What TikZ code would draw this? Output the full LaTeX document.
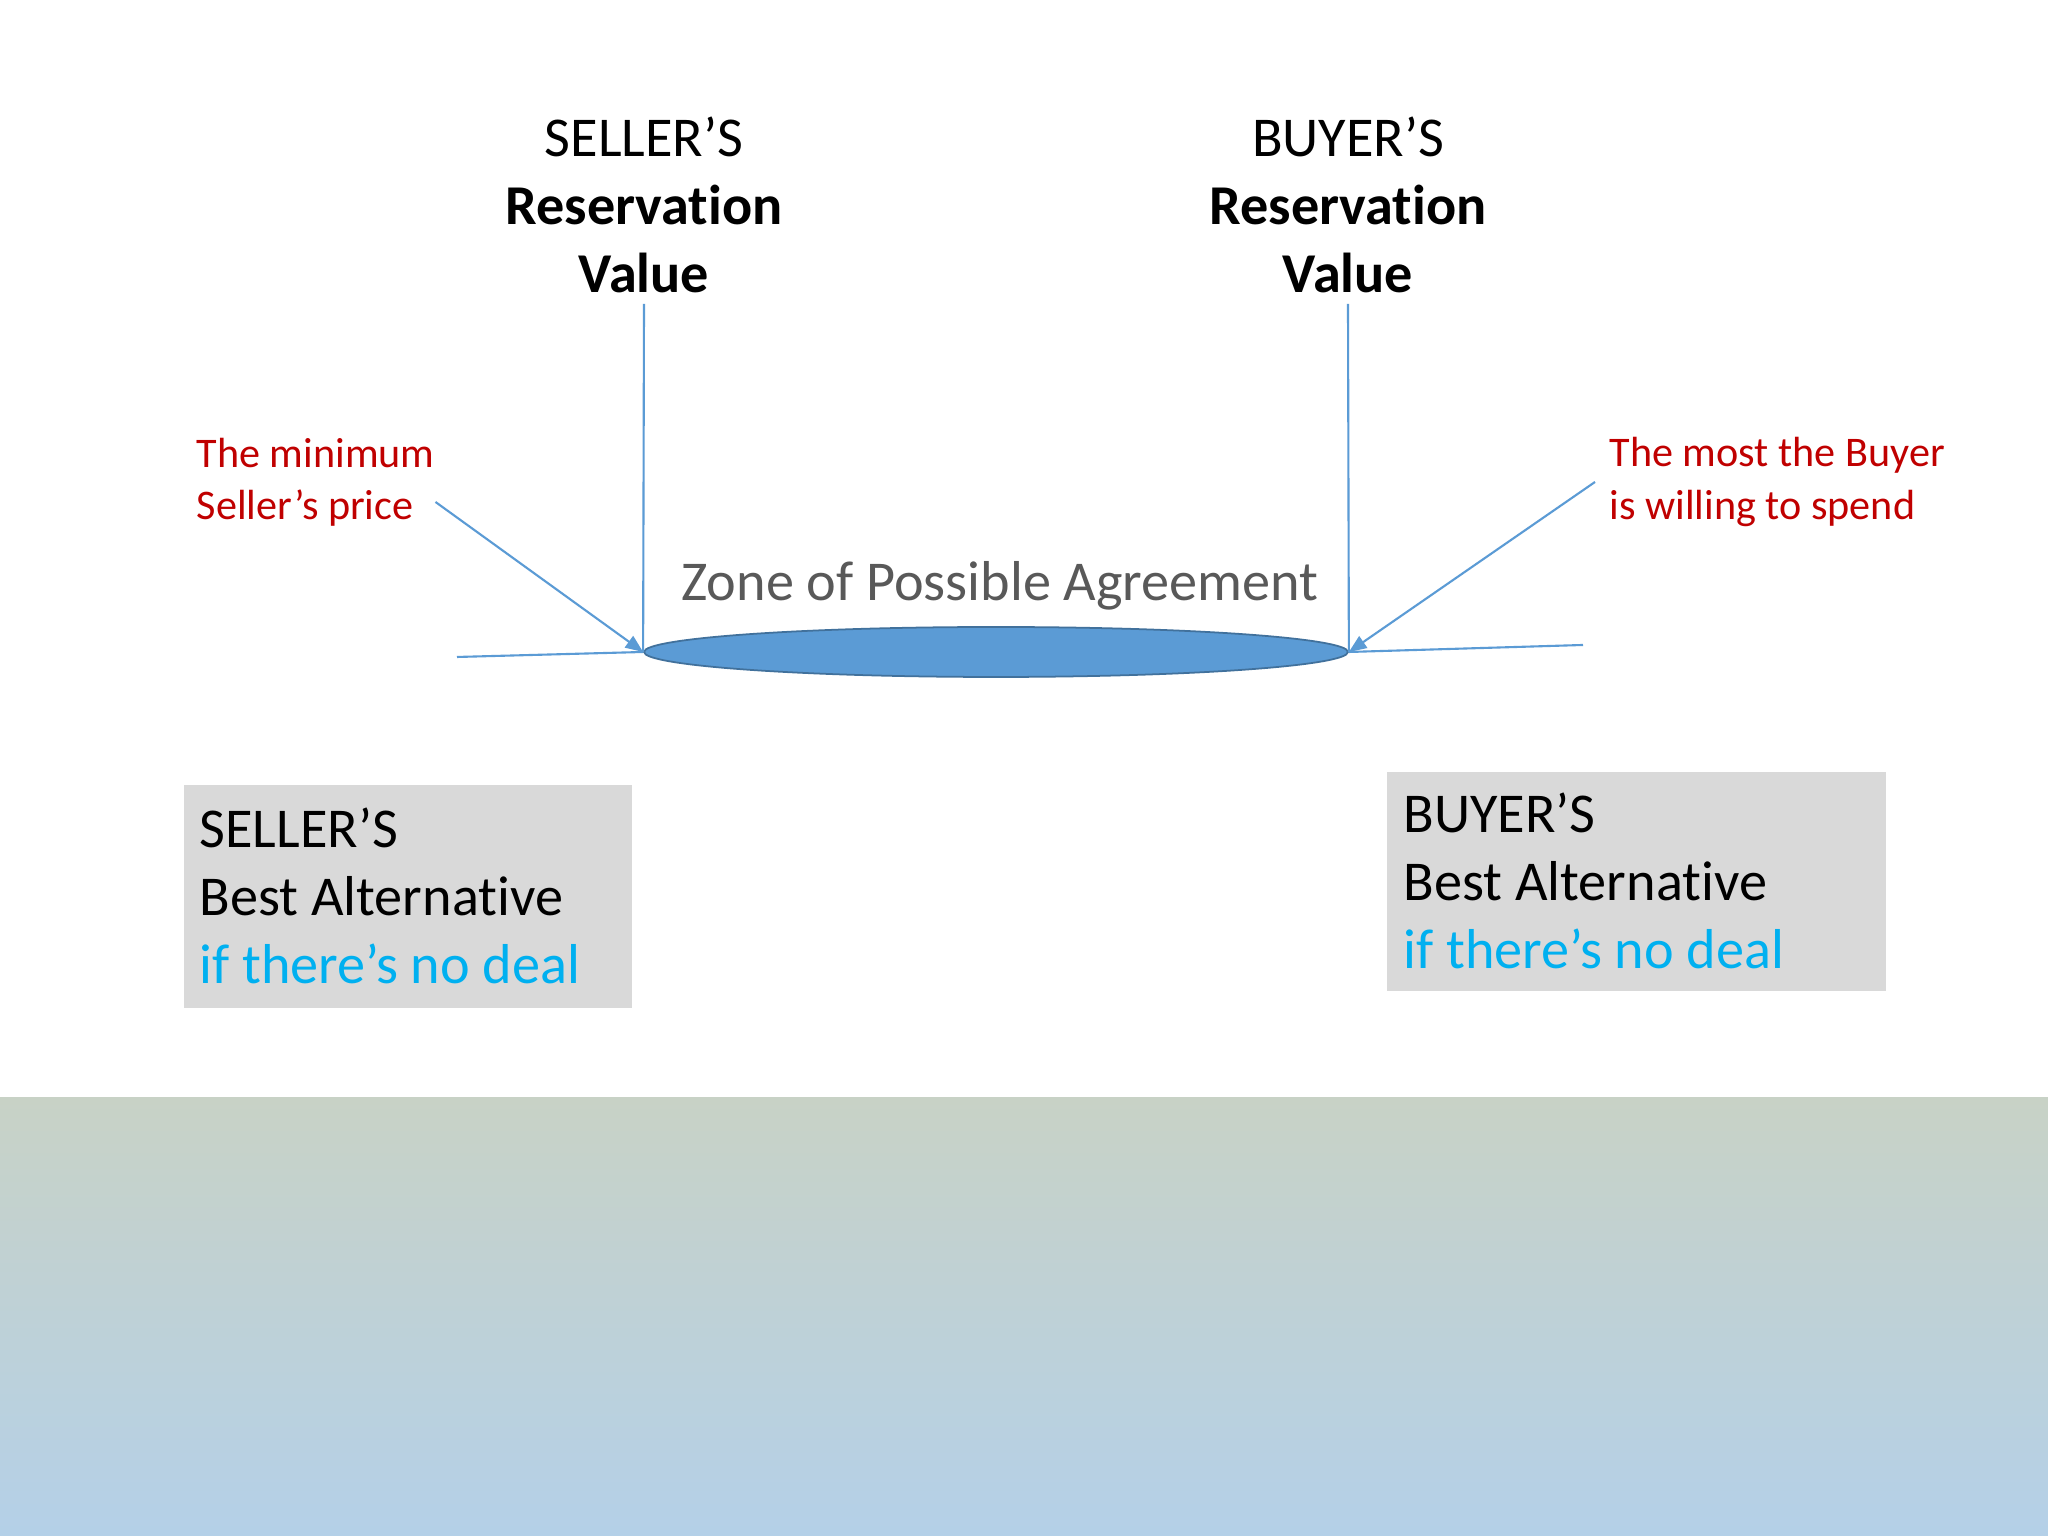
\documentclass[tikz,border=0pt]{standalone}
\usepackage{fontspec}
\setmainfont{Carlito}[Ligatures=NoCommon]
\usepackage{xcolor}
\usetikzlibrary{shapes.geometric, arrows.meta}

\definecolor{lineBlue}{RGB}{91,155,213}
\definecolor{zopaEdge}{RGB}{65,113,156}
\definecolor{noteRed}{RGB}{192,0,0}
\definecolor{zoneGray}{RGB}{89,89,89}
\definecolor{dealCyan}{RGB}{0,176,240}
\definecolor{boxGray}{RGB}{217,217,217}
\definecolor{bandTop}{RGB}{200,210,198}
\definecolor{bandBottom}{RGB}{180,208,232}

\begin{document}
\begin{tikzpicture}
    % 스타일 정의
    \tikzset{titleA/.style={align=center, inner sep=3pt, font=\fontsize{16}{19.3}\selectfont}}
    \tikzset{noteA/.style={align=left, inner sep=4pt, text=noteRed, font=\fontsize{12}{14.8}\selectfont}}
    \tikzset{altA/.style={fill=boxGray, align=flush left, anchor=north west, font=\fontsize{16}{19.3}\selectfont}}
    \tikzset{lineA/.style={draw=lineBlue, line width=0.6pt}}

    % 1. 바탕과 아래쪽 띠
    \useasboundingbox (0,0) rectangle (20.48,15.36);
    \fill[white] (0,0) rectangle (20.48,15.36);
    \shade[top color=bandTop, bottom color=bandBottom] (0,0) rectangle (20.48,4.38);

    % 2. 제목과 합의 가능 영역
    \node[titleA, anchor=south] (sellerrv) at (6.44,12.32) {SELLER’S\\\textbf{Reservation}\\\textbf{Value}};
    \node[titleA, anchor=south] (buyerrv) at (13.48,12.32) {BUYER’S\\\textbf{Reservation}\\\textbf{Value}};
    \node[ellipse, draw=zopaEdge, line width=0.5pt, fill=lineBlue, minimum width=7.04cm, minimum height=0.5cm, inner sep=0pt] (zopa) at (9.96,8.84) {};
    \node[font=\fontsize{16}{19.3}\selectfont, text=zoneGray] (zonelbl) at (10.00,9.50) {Zone of Possible Agreement};

    % 3. 빨간 설명
    \node[noteA, anchor=west] (minnote) at (1.82,10.54) {The minimum\\Seller’s price};
    \node[noteA, anchor=west] (maxnote) at (15.95,10.54) {The most the Buyer\\is willing to spend};

    % 4. 선과 화살표
    \coordinate (leftend) at (4.57,8.79);
    \coordinate (rightend) at (15.83,8.91);
    \draw[lineA] (sellerrv.south) -- (zopa.west);
    \draw[lineA] (buyerrv.south) -- (zopa.east);
    \draw[lineA] (leftend) -- (zopa.west);
    \draw[lineA] (zopa.east) -- (rightend);
    \draw[lineA, -{Triangle[length=5pt, width=4pt]}] ([xshift=-0.14cm, yshift=-0.2cm]minnote.east) -- (zopa.west);
    \draw[lineA, -{Triangle[length=5pt, width=4pt]}] (maxnote.west) -- (zopa.east);

    % 5. 최선의 대안 상자
    \node[altA, text width=4.16cm, inner sep=0.16cm, minimum height=2.23cm] (selleralt) at (1.83,7.52) {SELLER’S\\Best Alternative\\\textcolor{dealCyan}{if there’s no deal}};
    \node[altA, text width=4.65cm, inner sep=0.17cm, minimum height=2.19cm] (buyeralt) at (13.86,7.65) {BUYER’S\\Best Alternative\\\textcolor{dealCyan}{if there’s no deal}};
\end{tikzpicture}
\end{document}
